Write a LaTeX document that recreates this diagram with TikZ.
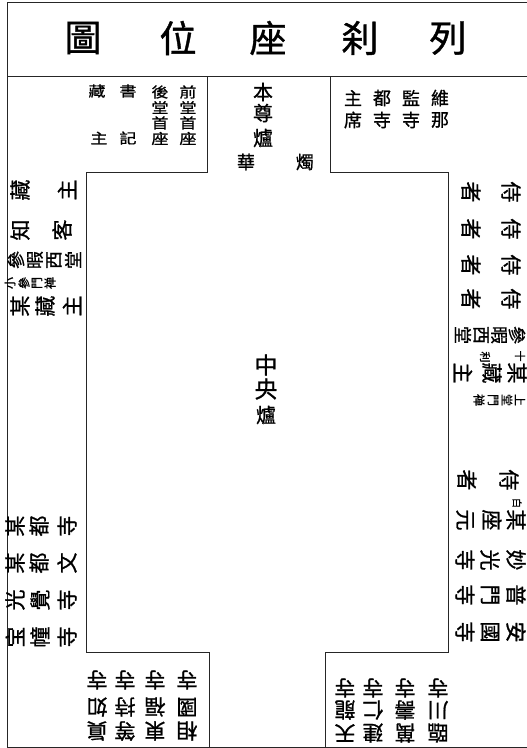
\documentclass[tikz,border=0pt]{standalone}
\usepackage{fontspec}
\newfontfamily\cjk[FakeBold=1.0]{Noto Sans CJK TC}
\begin{document}
\begin{tikzpicture}[x=1pt,y=-1pt,
  gl/.style={inner sep=0pt, font=\cjk\fontsize{21}{21}\selectfont},
  frame/.style={line width=0.8pt, draw=black!85}]
\useasboundingbox (0,0) rectangle (527,748);
% outer frame and partitions
\draw[frame] (529,2) -- (7,2) -- (7,747) -- (529,747);
\draw[frame] (7,76) -- (529,76);
\draw[frame] (207,76) -- (207,172) -- (86,172) -- (86,652) -- (209,652) -- (209,747);
\draw[frame] (330,76) -- (330,172) -- (448,172) -- (448,652) -- (325,652) -- (325,747);
% title
\foreach \c/\x [count=\i] in {圖/83,位/178,座/268,刹/360,列/448}
  \node[gl,font=\cjk\fontsize{37}{37}\selectfont] (t\i) at (\x,38) {\c};
% top-left box
\foreach \c/\x/\y [count=\i] in {前/188/92,堂/188/107.5,首/188/123,座/188/138.5,
  後/160/92,堂/160/107.5,首/160/123,座/160/138.5,
  書/128/91,記/128/138,藏/97/91,主/99/138}
  \node[gl,font=\cjk\fontsize{17}{17}\selectfont] (tl\i) at (\x,\y) {\scalebox{1}[0.84]{\c}};
% altar
\foreach \c/\x/\y/\s [count=\i] in {本/263/92/20,尊/263/113/20,爐/263/138/20,華/246/162/18,燭/305/162/18}
  \node[gl,font=\cjk\fontsize{\s}{\s}\selectfont] (al\i) at (\x,\y) {\c};
% top-right box
\foreach \c/\x/\y [count=\i] in {維/440/98,那/440/120,監/411/98,寺/411/120,
  都/382/98,寺/382/120,主/353/98,席/353/120}
  \node[gl,font=\cjk\fontsize{18}{18}\selectfont] (tr\i) at (\x,\y) {\c};
% centre
\foreach \c/\y/\s [count=\i] in {中/365/23,央/389/23,爐/415/20}
  \node[gl,font=\cjk\fontsize{\s}{\s}\selectfont] (c\i) at (266,\y) {\c};
% left aisle (rotated)
\foreach \c/\x/\y/\s [count=\i] in {藏/20/190/21,主/67/190/21,知/20/230/21,客/62/230/21,
  參/16/260/18,暇/35/260/18,西/54/260/18,堂/73/260/18,
  小/10/283/12,參/24/283/12,門/37/283/12,禅/50/283/12,
  某/20/306/21,藏/45/306/21,主/72/306/21,
  某/15/526/21,都/39/526/21,寺/67/526/21,
  某/15/563/21,都/39/563/21,文/67/563/21,
  光/15/600/21,覺/40/600/21,寺/67/600/21,
  宝/15/637/21,幢/40/637/21,寺/67/637/21}
  \node[gl,rotate=90,font=\cjk\fontsize{\s}{\s}\selectfont] (la\i) at (\x,\y) {\c};
% right aisle (rotated)
\foreach \c/\x/\y/\s [count=\i] in {侍/511/192/21,者/471/192/21,侍/511/229/21,者/471/229/21,
  侍/511/265/21,者/471/265/21,侍/511/299/21,者/471/299/21,
  參/517/335/18,暇/499/335/18,西/481/335/18,堂/463/335/18,
  十/520/356/11,利/485/357/11,
  某/517/373/21,藏/492/373/21,主/463/373/21,
  上/520/400/12,堂/507/400/12,門/493/400/12,禅/479/400/12,
  侍/509/480/21,者/467/480/21,白/517/503/10,
  某/516/520/21,座/492/520/21,元/465/520/21,
  妙/516/560/21,光/490/560/21,寺/465/560/21,
  普/516/595/21,門/490/595/21,寺/465/595/21,
  安/516/632/21,國/490/632/21,寺/465/632/21}
  \node[gl,rotate=-90,font=\cjk\fontsize{\s}{\s}\selectfont] (ra\i) at (\x,\y) {\c};
% bottom-left (upside down)
\foreach \a/\b/\x [count=\i] in {相/國/187,東/福/155,等/持/125,眞/如/97}{
  \node[gl,rotate=180] (bl\i a) at (\x,731) {\a};
  \node[gl,rotate=180] (bl\i b) at (\x,707) {\b};
  \node[gl,rotate=180] (bl\i c) at (\x,680) {寺};
}
% bottom-right (upside down)
\foreach \a/\b/\x [count=\i] in {臨/川/438,萬/壽/405,建/仁/373,天/龍/345}{
  \node[gl,rotate=180] (br\i a) at (\x,733) {\a};
  \node[gl,rotate=180] (br\i b) at (\x,710) {\b};
  \node[gl,rotate=180] (br\i c) at (\x,688) {寺};
}
\end{tikzpicture}
\end{document}
